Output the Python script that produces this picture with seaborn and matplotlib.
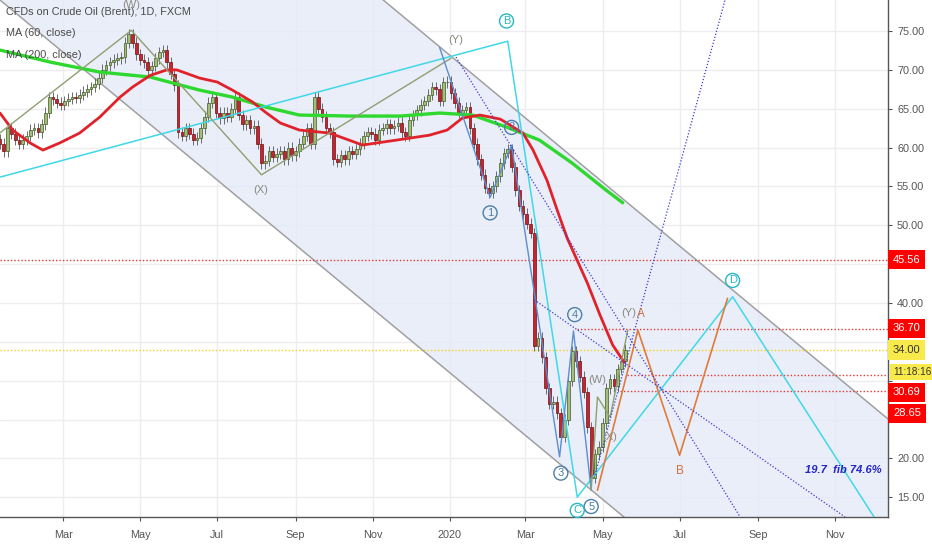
import numpy as np
import pandas as pd
import seaborn as sns
import matplotlib.pyplot as plt
import matplotlib.dates as mdates
import matplotlib.transforms as mtransforms

sns.set_theme(style="white")
plt.rcParams['font.family'] = ['Liberation Sans', 'DejaVu Sans']

# candles every 3 days starting 2019-01-10 (close prices)
candle_start = '2019-01-10'
closes = [
    60.5, 59.5, 62.5, 61.8, 61.0, 60.5, 61.0, 61.5, 62.3, 62.5,
    62.0, 63.0, 64.5, 66.5, 66.2, 65.8, 65.5, 66.0, 66.3, 66.5,
    66.4, 66.8, 67.2, 67.5, 67.8, 68.2, 69.0, 70.0, 70.6, 71.0,
    71.3, 71.5, 71.6, 73.5, 74.6, 73.5, 72.0, 71.3, 71.0, 70.0,
    70.5, 71.5, 72.3, 72.5, 71.0, 69.5, 68.0, 62.0, 61.5, 62.5,
    61.8, 61.0, 61.3, 62.5, 64.0, 65.8, 66.5, 64.5, 63.8, 64.5,
    64.0, 65.0, 66.5, 64.2, 63.0, 63.5, 62.5, 62.8, 60.5, 58.0,
    58.3, 59.5, 58.8, 59.2, 59.5, 58.5, 60.0, 59.0, 59.5, 60.5,
    61.5, 62.5, 60.5, 66.5, 65.0, 64.0, 62.5, 62.0, 58.5, 58.2,
    59.0, 58.5, 59.5, 59.2, 59.8, 60.5, 61.5, 62.0, 61.8, 61.0,
    62.3, 62.5, 63.0, 62.5, 62.8, 63.2, 62.0, 61.5, 63.5, 64.2,
    64.8, 65.5, 66.0, 66.8, 67.8, 67.5, 66.0, 68.4, 68.5, 67.0,
    65.8, 64.5, 64.8, 65.2, 62.5, 60.5, 58.5, 56.5, 54.8, 54.2,
    55.0, 56.3, 58.0, 59.3, 59.8, 57.5, 54.5, 52.5, 51.5, 50.2,
    49.0, 34.5, 35.5, 33.0, 29.0, 27.0, 27.3, 25.8, 22.8, 25.0,
    30.0, 33.8, 32.5, 30.5, 28.5, 24.0, 17.5, 20.5, 21.5, 24.5,
    29.0, 30.2, 29.3, 31.5, 32.5, 34.0,
]

ma60_dates = ['2019-01-10', '2019-01-20', '2019-02-03', '2019-02-13', '2019-02-26',
              '2019-03-14', '2019-03-30', '2019-04-15', '2019-04-25', '2019-05-09',
              '2019-05-22', '2019-05-30', '2019-06-17', '2019-07-01', '2019-07-13',
              '2019-07-29', '2019-08-09', '2019-08-20', '2019-09-04', '2019-09-28',
              '2019-10-24', '2019-11-20', '2019-12-16', '2019-12-30', '2020-01-11',
              '2020-01-25', '2020-02-10', '2020-02-28', '2020-03-07', '2020-03-18',
              '2020-03-26', '2020-04-03', '2020-04-19', '2020-04-29', '2020-05-09',
              '2020-05-18']
ma60 = [64.45, 62.26, 60.58, 59.68, 60.58, 61.87, 63.93, 66.5, 67.8, 69.3,
        70.0, 70.0, 68.95, 68.44, 67.4, 65.86, 64.45, 63.16, 62.26, 61.87,
        60.33, 60.97, 61.6, 62.26, 63.8, 64.19, 63.67, 61.87, 59.68, 55.8,
        52.0, 48.36, 42.57, 38.45, 34.6, 32.4]

ma200_dates = ['2019-01-10', '2019-02-19', '2019-03-30', '2019-05-09', '2019-06-17',
               '2019-07-13', '2019-08-09', '2019-09-04', '2019-10-14', '2019-11-23',
               '2019-12-24', '2020-01-19', '2020-02-15', '2020-03-12', '2020-04-07',
               '2020-05-04', '2020-05-17']
ma200 = [72.55, 71.0, 69.72, 69.08, 67.4, 66.5, 65.2, 64.19, 64.06, 64.06,
         64.45, 64.19, 62.64, 60.97, 58.0, 54.5, 52.9]

# parallel channel anchors
chan_lower_dates = ['2019-01-10', '2020-04-29']
chan_lower = [79.0, 15.0]
chan_upper_dates = ['2020-01-01', '2020-12-12']
chan_upper = [71.9, 25.2]

# wave drawings
cyan_dates = ['2019-01-10', '2020-02-16', '2020-04-11', '2020-08-12', '2020-12-02']
cyan_vals = [56.2, 73.7, 15.0, 40.8, 12.45]
wxy_dates = ['2019-01-10', '2019-04-24', '2019-08-05', '2020-01-02']
wxy_vals = [61.9, 75.1, 56.5, 71.5]
imp_dates = ['2019-12-24', '2020-02-02', '2020-02-19', '2020-03-28', '2020-04-08', '2020-04-22']
imp_vals = [72.9, 53.6, 60.3, 20.2, 36.4, 15.9]
small_dates = ['2020-04-22', '2020-04-27', '2020-05-07', '2020-05-21']
small_vals = [15.9, 27.9, 25.3, 36.5]
orange_dates = ['2020-04-27', '2020-05-29', '2020-07-01', '2020-08-08']
orange_vals = [15.9, 36.5, 20.4, 40.6]

dotted_lines = [
    (['2020-01-06', '2020-08-18'], [71.65, 12.45]),
    (['2020-03-08', '2020-11-09'], [40.4, 12.45]),
    (['2020-04-25', '2020-08-06'], [17.86, 79.0]),
]

# horizontal levels: (price, start date or None for full width, color)
levels = [
    (45.56, None, '#e53935'),
    (36.70, '2020-04-11', '#e53935'),
    (34.00, None, '#f2d21b'),
    (30.69, '2020-05-20', '#e53935'),
    (28.65, '2020-05-15', '#e53935'),
]
# price-scale boxes: (text, shown at price, face, text color, font size)
price_boxes = [
    ('45.56', 45.56, '#ff0000', 'white', 8),
    ('36.70', 36.75, '#ff0000', 'white', 8),
    ('34.00', 33.95, '#f7ea4a', '#333333', 8),
    ('11:18:16', 31.15, '#f7ea4a', '#333333', 7.2),
    ('30.69', 28.5, '#ff0000', 'white', 8),
    ('28.65', 25.8, '#ff0000', 'white', 8),
]

month_ticks = ['2019-03-01', '2019-05-01', '2019-07-01', '2019-09-01', '2019-11-01',
               '2020-01-01', '2020-03-01', '2020-05-01', '2020-07-01', '2020-09-01',
               '2020-11-01']
month_labels = ['Mar', 'May', 'Jul', 'Sep', 'Nov', '2020', 'Mar', 'May', 'Jul', 'Sep', 'Nov']
price_ticks = list(range(15, 80, 5))
covered_ticks = [25, 30, 35, 45]   # hidden behind the price boxes

x_min, x_max = pd.Timestamp('2019-01-10'), pd.Timestamp('2020-12-13')
y_min, y_max = 12.45, 79.0


def dn(s):
    return mdates.date2num(pd.to_datetime(s))


fig = plt.figure(figsize=(9.32, 5.5), dpi=100)
ax = fig.add_axes([0, 33 / 550, 888 / 932, 517 / 550])
ax.set_xlim(dn(x_min), dn(x_max))
ax.set_ylim(y_min, y_max)

# grid
for t in month_ticks:
    ax.axvline(dn(t), color='#ececf1', lw=1, zorder=0)
for p in price_ticks:
    ax.axhline(p, color='#ececf1', lw=1, zorder=0)

# channel fill + borders
xs = np.linspace(dn(x_min), dn(x_max), 200)
lo = np.polyval(np.polyfit(dn(chan_lower_dates), chan_lower, 1), xs)
up = np.polyval(np.polyfit(dn(chan_upper_dates), chan_upper, 1), xs)
ax.fill_between(xs, lo, np.minimum(up, y_max + 5), color='#e4e9f8', alpha=0.75, zorder=0.5, lw=0)
ax.plot(xs, lo, color='#a0a0a0', lw=1.1, zorder=1)
ax.plot(xs, up, color='#a0a0a0', lw=1.1, zorder=1)

# horizontal levels
for price, start, col in levels:
    x0 = dn(x_min) if start is None else dn(start)
    ax.plot([x0, dn(x_max)], [price, price], color=col, lw=1, ls=(0, (1, 1.5)), zorder=1.5)

# candles
cd = pd.date_range(candle_start, periods=len(closes), freq='3D')
cx = mdates.date2num(cd)
cl = np.array(closes)
op = np.concatenate([[closes[0] + 0.6], cl[:-1]])
hi = np.maximum(op, cl) + 0.7
lo_w = np.minimum(op, cl) - 0.7
upc = cl >= op
ax.vlines(cx, lo_w, hi, color='#555555', lw=0.6, zorder=2)
ax.bar(cx[upc], (cl - op)[upc], bottom=op[upc], width=2.2, color='#a4bd78',
       edgecolor='#3f5a26', lw=0.5, zorder=3)
ax.bar(cx[~upc], (cl - op)[~upc], bottom=op[~upc], width=2.2, color='#c4262e',
       edgecolor='#6e1015', lw=0.5, zorder=3)

# moving averages
ma60_df = pd.DataFrame({'d': mdates.date2num(pd.to_datetime(ma60_dates)), 'v': ma60})
ma200_df = pd.DataFrame({'d': mdates.date2num(pd.to_datetime(ma200_dates)), 'v': ma200})
sns.lineplot(data=ma200_df, x='d', y='v', ax=ax, color='#2ed82e', lw=2.4, zorder=4)
sns.lineplot(data=ma60_df, x='d', y='v', ax=ax, color='#e0222b', lw=2.0, zorder=4)

# wave drawings
ax.plot(dn(cyan_dates), cyan_vals, color='#3fd8e8', lw=1.1, zorder=5)
ax.plot(dn(wxy_dates), wxy_vals, color='#8da070', lw=1.0, zorder=5)
ax.plot(dn(imp_dates), imp_vals, color='#5a8fcf', lw=1.0, zorder=5)
ax.plot(dn(small_dates), small_vals, color='#8da070', lw=1.0, zorder=5)
ax.plot(dn(orange_dates), orange_vals, color='#e07a3c', lw=1.2, zorder=5)
for dd, vv in dotted_lines:
    ax.plot(dn(dd), vv, color='#3a3ad0', lw=0.9, ls=(0, (1, 1.5)), zorder=5)


# wave labels
def circ(d, p, s, col):
    ax.text(dn(d), p, s, color=col, fontsize=8, ha='center', va='center', zorder=6,
            bbox=dict(boxstyle='circle,pad=0.18', fc='none', ec=col, lw=1))


for d, p, s in [('2020-02-02', 51.6, '1'), ('2020-02-19', 62.6, '2'), ('2020-03-29', 18.1, '3'),
                ('2020-04-09', 38.5, '4'), ('2020-04-22', 13.8, '5')]:
    circ(d, p, s, '#4d7fa8')
for d, p, s in [('2020-02-15', 76.3, 'B'), ('2020-04-11', 13.3, 'C'), ('2020-08-12', 42.9, 'D')]:
    circ(d, p, s, '#26b8c4')

for d, p, s in [('2019-04-24', 78.3, '(W)'), ('2019-08-04', 54.5, '(X)'), ('2020-01-06', 73.9, '(Y)'),
                ('2020-04-27', 30.1, '(W)'), ('2020-05-07', 22.8, '(X)'), ('2020-05-22', 38.7, '(Y)')]:
    ax.text(dn(d), p, s, color='#8a8a80', fontsize=8, ha='center', va='center', zorder=6)
ax.text(dn('2020-05-31'), 38.6, 'A', color='#d2703a', fontsize=8.5, ha='center', va='center', zorder=6)
ax.text(dn('2020-07-01'), 18.4, 'B', color='#d2703a', fontsize=8.5, ha='center', va='center', zorder=6)
ax.text(dn('2020-10-08'), 18.5, '19.7  fib 74.6%', color='#2424c8', fontsize=8,
        style='italic', weight='bold', ha='left', va='center', zorder=6)

# legend texts
for i, s in enumerate(['CFDs on Crude Oil (Brent), 1D, FXCM', 'MA (60, close)', 'MA (200, close)']):
    ax.text(6 / 888, 1 - (12 + 21.5 * i) / 517, s, transform=ax.transAxes, color='#4a4a4a',
            fontsize=7.8, ha='left', va='center', zorder=7)

# axes styling
ax.set_xlim(dn(x_min), dn(x_max))
ax.set_ylim(y_min, y_max)
ax.yaxis.tick_right()
ax.set_yticks(price_ticks)
ax.set_yticklabels(['' if p in covered_ticks else f'{p:.2f}' for p in price_ticks])
ax.set_xticks(dn(month_ticks))
ax.set_xticklabels(month_labels)
ax.tick_params(axis='both', colors='#555555', labelsize=7.8, length=3, width=0.8,
               direction='out', right=True, bottom=True, left=False)
ax.tick_params(axis='x', pad=6)
for side in ['top', 'left']:
    ax.spines[side].set_visible(False)
for side in ['right', 'bottom']:
    ax.spines[side].set_color('#555555')
    ax.spines[side].set_linewidth(1)
ax.set_xlabel('')
ax.set_ylabel('')

trans = mtransforms.blended_transform_factory(ax.transAxes, ax.transData)
for s, p, fc, tc, fs in price_boxes:
    ax.text(1.0 + 5 / 888, p, s, transform=trans, color=tc, fontsize=fs, ha='left', va='center',
            clip_on=False, zorder=10,
            bbox=dict(boxstyle='square,pad=0.42' if fs == 8 else 'square,pad=0.3', fc=fc, ec='none'))

fig.savefig('out.png', dpi=100)
